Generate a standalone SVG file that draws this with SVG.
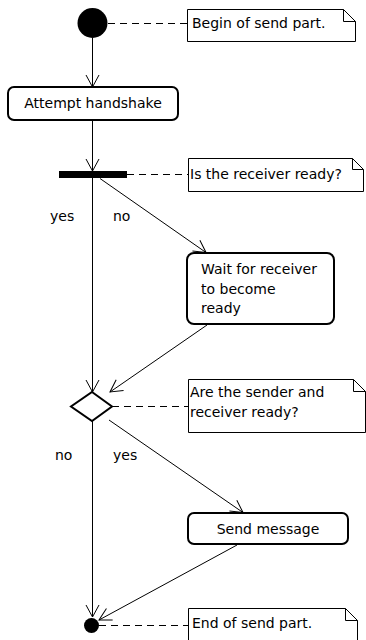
<svg xmlns="http://www.w3.org/2000/svg" width="366" height="640" viewBox="0 0 366 640">
<defs>
<style>
text{font-family:"DejaVu Sans","Liberation Sans",sans-serif;font-size:14px;fill:#000}
.act{fill:#fff;stroke:#000;stroke-width:2}
.note{fill:#fff;stroke:#000;stroke-width:1}
.fold{fill:none;stroke:#000;stroke-width:1}
.flow{fill:none;stroke:#000;stroke-width:1;marker-end:url(#arr)}
.dash{fill:none;stroke:#000;stroke-width:1;stroke-dasharray:7 5}
</style>
<marker id="arr" markerUnits="userSpaceOnUse" markerWidth="16" markerHeight="16" viewBox="-13 -8 16 16" refX="0" refY="0" orient="auto">
<path d="M-12,-6.5 L0,0 L-12,6.5" fill="none" stroke="#000" stroke-width="1"/>
</marker>
</defs>
<rect width="366" height="640" fill="#fff"/>
<g id="connectors">
<line class="flow" x1="92.5" y1="38" x2="92.5" y2="87"/>
<line class="flow" x1="92.5" y1="121" x2="92.5" y2="171"/>
<line class="flow" x1="92.5" y1="178" x2="92.5" y2="392"/>
<line class="flow" x1="100" y1="178.5" x2="206" y2="252.5"/>
<line class="flow" x1="207" y1="325" x2="110" y2="392"/>
<line class="flow" x1="109" y1="420" x2="243" y2="512.5"/>
<line class="flow" x1="92.5" y1="421" x2="92.5" y2="617"/>
<line class="flow" x1="237" y1="545" x2="99" y2="620"/>
<line class="dash" x1="108" y1="23.5" x2="187" y2="23.5"/>
<line class="dash" x1="127" y1="174.5" x2="188" y2="174.5"/>
<line class="dash" x1="112" y1="406.5" x2="188" y2="406.5"/>
<line class="dash" x1="99" y1="625.5" x2="188" y2="625.5"/>
</g>
<g id="start"><circle cx="92.5" cy="23" r="15" fill="#000"/></g>
<g id="note-begin">
<path class="note" d="M187.5,9.5 H343.5 L355.5,21.5 V41.5 H187.5 Z"/>
<path class="fold" d="M343.5,9.5 V21.5 H355.5"/>
<text x="192" y="28">Begin of send part.</text>
</g>
<g id="attempt">
<rect class="act" x="8" y="87" width="170" height="33" rx="6"/>
<text x="93" y="108" text-anchor="middle">Attempt handshake</text>
</g>
<g id="fork"><rect x="59" y="171" width="68" height="7" fill="#000"/></g>
<g id="note-ready">
<path class="note" d="M188.5,158.5 H352.5 L363.5,169.5 V191.5 H188.5 Z"/>
<path class="fold" d="M352.5,158.5 V169.5 H363.5"/>
<text x="190" y="179">Is the receiver ready?</text>
</g>
<text x="50" y="221">yes</text>
<text x="113" y="221">no</text>
<g id="wait">
<rect class="act" x="187" y="253" width="147" height="71" rx="7"/>
<text x="201" y="274">Wait for receiver</text>
<text x="201" y="293.5">to become</text>
<text x="201" y="313">ready</text>
</g>
<g id="decision"><path class="act" d="M92,392 L112,406.5 L92,421 L71,406.5 Z"/></g>
<g id="note-both">
<path class="note" d="M188.5,379.5 H353.5 L365.5,391.5 V432.5 H188.5 Z"/>
<path class="fold" d="M353.5,379.5 V391.5 H365.5"/>
<text x="190" y="397">Are the sender and</text>
<text x="190" y="417">receiver ready?</text>
</g>
<text x="55" y="460">no</text>
<text x="113" y="460">yes</text>
<g id="send">
<rect class="act" x="188" y="513" width="160" height="31" rx="6"/>
<text x="268" y="534" text-anchor="middle">Send message</text>
</g>
<g id="end"><circle cx="91.5" cy="625.5" r="7.5" fill="#000"/></g>
<g id="note-end">
<path class="note" d="M188.5,608.5 H345.5 L357.5,620.5 V645 H188.5 Z"/>
<path class="fold" d="M345.5,608.5 V620.5 H357.5"/>
<text x="192" y="628">End of send part.</text>
</g>
</svg>
